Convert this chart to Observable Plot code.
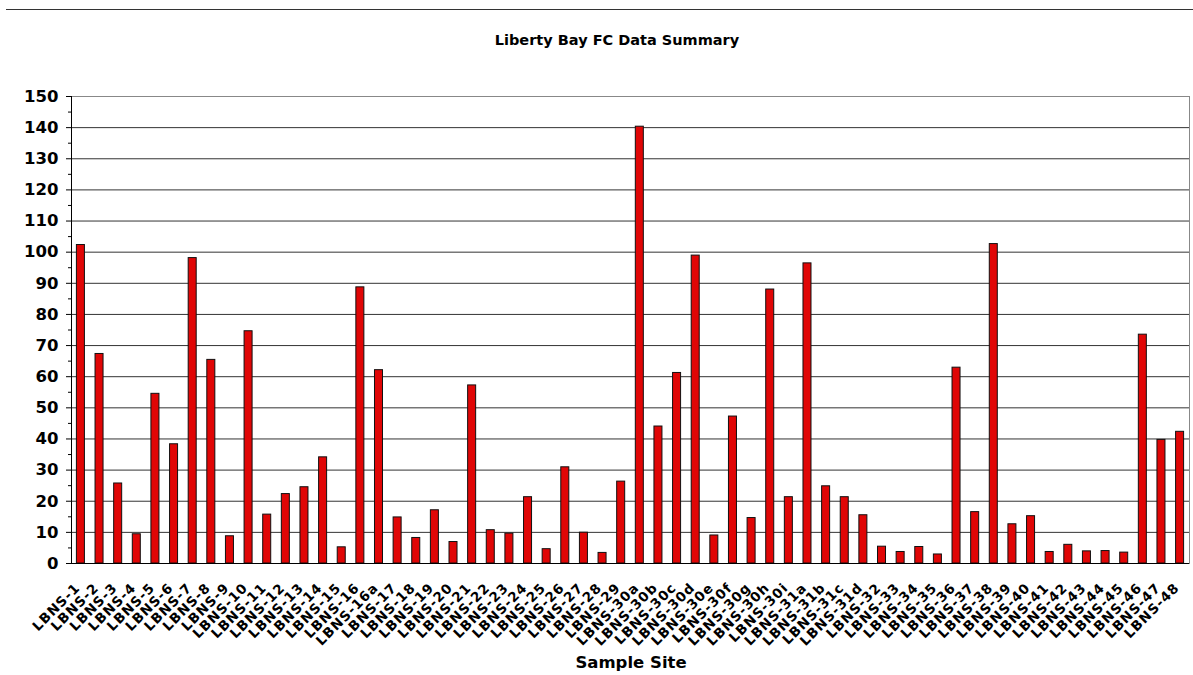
<!DOCTYPE html>
<html>
<head>
<meta charset="utf-8">
<script src="https://cdn.jsdelivr.net/npm/d3@7"></script>
<script src="https://cdn.jsdelivr.net/npm/@observablehq/plot@0.6"></script>
<style>
  html, body { margin: 0; padding: 0; background: #fff; }
  #wrap { position: relative; width: 1193px; height: 675px; overflow: hidden; font-family: "DejaVu Sans", Verdana, sans-serif; }
  #topline { position: absolute; left: 6px; top: 9px; width: 1187px; height: 0; border-top: 1px solid #333; }
  .lbl { position: absolute; font-weight: bold; white-space: nowrap; transform: translate(-50%, -50%); color: #000; }
  #title { left: 617px; top: 40px; font-size: 14.5px; }
  #xlabel { left: 631px; top: 662px; font-size: 16.5px; }
  #chart { position: absolute; left: 0; top: 0; }
  #chart g[aria-label="x-axis tick label"] text { letter-spacing: 1px; }
</style>
</head>
<body>
<div id="wrap">
  <div id="chart"></div>
  <div id="topline"></div>
  <div id="title" class="lbl">Liberty Bay FC Data Summary</div>
  <div id="xlabel" class="lbl">Sample Site</div>
</div>
<script>
const sites = [
  "LBNS-1","LBNS-2","LBNS-3","LBNS-4","LBNS-5","LBNS-6","LBNS-7","LBNS-8","LBNS-9","LBNS-10",
  "LBNS-11","LBNS-12","LBNS-13","LBNS-14","LBNS-15","LBNS-16","LBNS-16a","LBNS-17","LBNS-18","LBNS-19",
  "LBNS-20","LBNS-21","LBNS-22","LBNS-23","LBNS-24","LBNS-25","LBNS-26","LBNS-27","LBNS-28","LBNS-29",
  "LBNS-30a","LBNS-30b","LBNS-30c","LBNS-30d","LBNS-30e","LBNS-30f","LBNS-30g","LBNS-30h","LBNS-30i",
  "LBNS-31a","LBNS-31b","LBNS-31c","LBNS-31d","LBNS-32","LBNS-33","LBNS-34","LBNS-35","LBNS-36",
  "LBNS-37","LBNS-38","LBNS-39","LBNS-40","LBNS-41","LBNS-42","LBNS-43","LBNS-44","LBNS-45",
  "LBNS-46","LBNS-47","LBNS-48"
];
const fcValues = [
  102.3, 67.3, 25.7, 9.4, 54.5, 38.3, 98.1, 65.4, 8.75, 74.6,
  15.7, 22.3, 24.5, 34.1, 5.2, 88.7, 62.1, 14.8, 8.2, 17.1,
  6.9, 57.2, 10.7, 9.6, 21.3, 4.6, 30.9, 9.9, 3.4, 26.3,
  140.3, 44.0, 61.2, 98.9, 9.0, 47.2, 14.6, 88.0, 21.3,
  96.4, 24.8, 21.3, 15.5, 5.4, 3.7, 5.3, 2.9, 62.9,
  16.5, 102.6, 12.6, 15.2, 3.7, 6.0, 3.9, 4.0, 3.5,
  73.5, 39.7, 42.3
];
const majorTicks = d3.range(0, 151, 10);
const minorTicks = d3.range(5, 150, 10);

const data = sites.map((s, i) => ({site: s, value: fcValues[i]}));

const chart = Plot.plot({
  width: 1193,
  height: 675,
  marginLeft: 71,
  marginRight: 4,
  marginTop: 96,
  marginBottom: 112,
  style: {fontFamily: "DejaVu Sans, Verdana, sans-serif", color: "#000", background: "transparent", overflow: "visible"},
  x: {domain: sites, paddingInner: 0.57, paddingOuter: 0.29, label: null},
  y: {domain: [0, 150], label: null},
  marks: [
    Plot.gridY(majorTicks, {stroke: "#333", strokeOpacity: 1}),
    Plot.frame({stroke: "#888"}),
    Plot.barY(data, {x: "site", y: "value", fill: "#e00606", stroke: "#111", strokeWidth: 1}),
    Plot.ruleY([0], {stroke: "#000"}),
    Plot.frame({anchor: "left", stroke: "#000"}),
    Plot.axisY({ticks: minorTicks, tickSize: 3, tickFormat: () => "", label: null}),
    Plot.axisY({ticks: majorTicks, tickSize: 5, tickPadding: 8, fontSize: 16.5, fontWeight: "bold", label: null}),
    Plot.axisX({tickRotate: -45, tickSize: 0, tickPadding: 16, dx: -3, dy: 6, fontSize: 13.5, fontWeight: "bold", label: null})
  ]
});
document.getElementById("chart").appendChild(chart);
</script>
</body>
</html>
